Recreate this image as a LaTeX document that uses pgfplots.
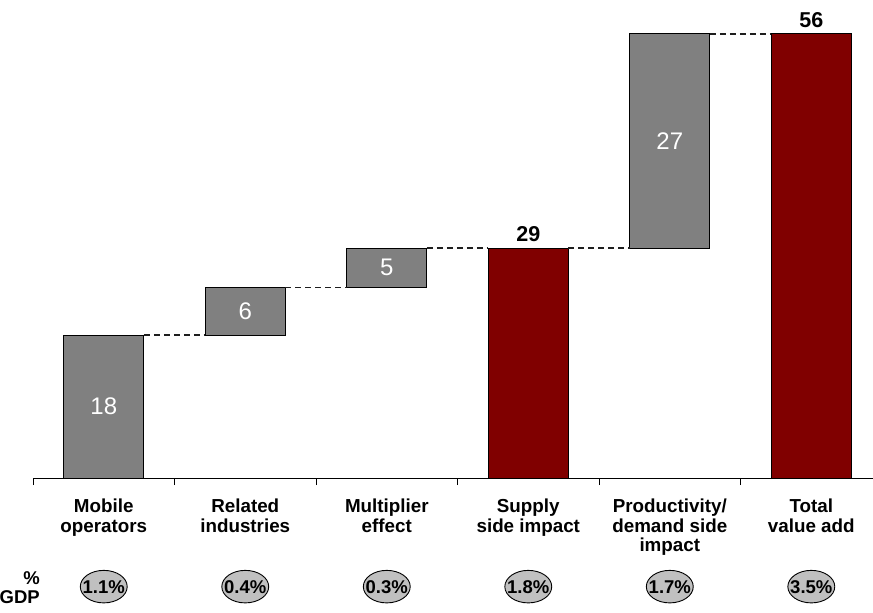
\documentclass[border=0pt]{standalone}
\usepackage{fontspec}
\setmainfont{Liberation Sans}
\usepackage{pgfplots}
\pgfplotsset{compat=1.18}
\usepackage{pgfplotstable}
\usetikzlibrary{shapes.geometric}

\definecolor{bargray}{RGB}{128,128,128}
\definecolor{barred}{RGB}{128,0,0}
\definecolor{pillgray}{RGB}{192,192,192}
\definecolor{dashgray}{RGB}{30,30,30}

% waterfall: invisible base, grey step, red total
\pgfplotstableread{
x base step total
0  0   18  0
1  18  6   0
2  24  5   0
3  0   0   29
4  29  27  0
5  0   0   56
}\waterfall

\pgfplotsset{
  wfframe/.style={
    width=840pt, height=478pt, scale only axis,
    xmin=-0.5, xmax=5.436, ymin=0, ymax=60.28,
  },
}

\begin{document}
\begin{tikzpicture}
\useasboundingbox (-33pt,-135pt) rectangle (840pt,478pt);

\begin{axis}[
    wfframe,
    ybar stacked,
    bar width=80pt,
    axis x line=bottom,
    axis y line=none,
    x axis line style={-, line width=1pt, black},
    xtick={0,...,5},
    xticklabels={{Mobile\\operators},{Related\\industries},{Multiplier\\effect},
      {Supply\\side impact},{Productivity/\\demand side\\impact},{Total\\value add}},
    minor xtick={-0.5,0.5,1.5,2.5,3.5,4.5},
    major tick length=0pt,
    minor tick length=7pt,
    tick align=outside,
    tick style={black, line width=1pt},
    xticklabel style={anchor=north, inner sep=0pt, yshift=-21pt, align=center,
      font=\bfseries\fontsize{18.8}{19.5}\selectfont},
]
\addplot[draw=none, fill=none] table[x=x, y=base] {\waterfall};
\addplot[fill=bargray, draw=black, line width=1pt] table[x=x, y=step] {\waterfall};
\addplot[fill=barred, draw=black, line width=1pt] table[x=x, y=total] {\waterfall};
\end{axis}

\begin{axis}[wfframe, hide axis, clip=false]
% connectors
\addplot[dashgray, line width=1.6pt, dash pattern=on 6pt off 4pt, unbounded coords=jump, mark=none]
  coordinates {(0.283,18) (0.717,18) (1,nan) (1.283,24) (1.717,24) (2,nan)
    (2.283,29) (2.717,29) (3,nan) (3.283,29) (3.717,29) (4,nan) (4.283,56) (4.717,56)};
% step values inside grey bars
\addplot[draw=none, mark=none, nodes near coords, point meta=explicit symbolic,
  nodes near coords align={center},
  every node near coord/.append style={text=white, inner sep=0pt,
    font=\fontsize{24}{24}\selectfont}]
  coordinates {(0,9)[18] (1,21)[6] (2,26.5)[5] (4,42.5)[27]};
% totals above red bars
\addplot[draw=none, mark=none, nodes near coords, point meta=explicit symbolic,
  every node near coord/.append style={anchor=south, inner sep=0pt, yshift=6pt,
    font=\bfseries\fontsize{21.5}{21.5}\selectfont}]
  coordinates {(3,29)[29] (5,56)[56]};
% share of GDP
\addplot[draw=none, mark=none, nodes near coords, point meta=explicit symbolic,
  nodes near coords align={center},
  every node near coord/.append style={ellipse, draw=black, line width=0.9pt,
    fill=pillgray, inner xsep=-4.5pt, inner ysep=4.5pt, text height=13.5pt, text depth=0.5pt,
    minimum width=0pt, minimum height=0pt,
    font=\bfseries\fontsize{18.5}{18.5}\selectfont}]
  coordinates {(0,-13.7)[1.1\%] (1,-13.7)[0.4\%] (2,-13.7)[0.3\%]
    (3,-13.7)[1.8\%] (4,-13.7)[1.7\%] (5,-13.7)[3.5\%]};
\node[anchor=east, align=right, inner sep=0pt,
  font=\bfseries\fontsize{18.5}{19}\selectfont]
  at ([xshift=7pt]axis cs:-0.5,-13.8) {\%\\GDP};
\end{axis}
\end{tikzpicture}
\end{document}
